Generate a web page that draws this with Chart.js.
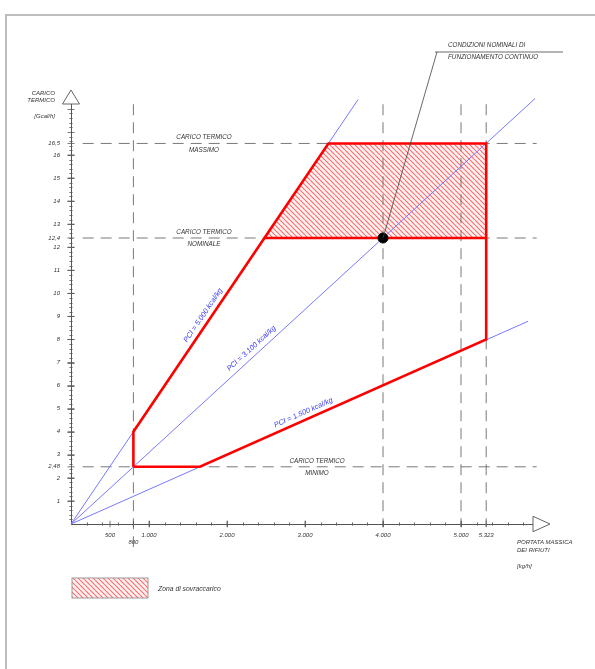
<!DOCTYPE html>
<html><head><meta charset="utf-8">
<script src="https://cdn.jsdelivr.net/npm/chart.js@4/dist/chart.umd.min.js"></script>
<style>html,body{margin:0;padding:0;background:#fff}canvas{display:block}</style>
</head><body>
<canvas id="c" width="595" height="669"></canvas>
<script>
// ---------- DATA ----------
const xTickValues = [500, 800, 1000, 2000, 3000, 4000, 5000, 5323];
const xTickLabels = ['500', '800', '1.000', '2.000', '3.000', '4.000', '5.000', '5.323'];
const xTicksLowered = [800];
const yTickValues = [1, 2, 2.48, 3, 4, 5, 6, 7, 8, 9, 10, 11, 12, 12.4, 13, 14, 15, 16, 16.5];
const yTickLabels = ['1','2','2,48','3','4','5','6','7','8','9','10','11','12','12,4','13','14','15','16','16,5'];

// operating envelope [kg/h , Gcal/h]
const envelopeX = [800, 800, 2480, 3300, 5323, 5323, 1653, 800];
const envelopeY = [2.48, 4, 12.4, 16.5, 16.5, 8, 2.48, 2.48];
const nominalLineX = [2480, 5323];
const nominalLineY = [12.4, 12.4];
// overload zone (upper boundary, filled down to base)
const overloadX = [2480, 3300, 5323];
const overloadY = [12.4, 16.5, 16.5];
const overloadBase = 12.4;

// PCI lines
const pciLabels = ['PCI = 5.000 kcal/kg', 'PCI = 3.100 kcal/kg', 'PCI = 1.500 kcal/kg'];
const pciLineX = [[0, 3680], [0, 5950], [0, 5860]];
const pciLineY = [[0, 18.4], [0, 18.45], [0, 8.79]];

// reference levels (Gcal/h) and flows (kg/h)
const levelValues = [16.5, 12.4, 2.48];
const levelNames = [['CARICO TERMICO', 'MASSIMO'], ['CARICO TERMICO', 'NOMINALE'], ['CARICO TERMICO', 'MINIMO']];
const levelLineX = [150, 5970];
const flowMarks = [800, 4000, 5000, 5323];
const flowMarkBottom = [-1.0, -0.12, -0.12, -0.12];
const flowMarkTop = 18.2;
const nominalPointX = [4000];
const nominalPointY = [12.4];

// ---------- LAYOUT (label anchors in axis units) ----------
const layoutCfg = {
  levelLabelX: [1705, 1705, 3154],
  pciLabelX: [1773, 2378, 3018],
  pciLabelOffset: 7.5
};

const toPts = (xs, ys) => xs.map((x, i) => ({x: x, y: ys[i]}));

const mainCtx = document.getElementById('c').getContext('2d');
function makeHatch() {
  const s = 5, c = document.createElement('canvas');
  c.width = s; c.height = s;
  const g = c.getContext('2d');
  g.fillStyle = '#fff2f2'; g.fillRect(0, 0, s, s);
  g.strokeStyle = '#ff6a6a'; g.lineWidth = 1.1;
  g.beginPath();
  for (let k = -1; k <= 1; k++) { g.moveTo(k * s, 0); g.lineTo(k * s + s, s); }
  g.stroke();
  return mainCtx.createPattern(c, 'repeat');
}
const hatch = makeHatch();

const RED = '#ff0000', BLUE = '#7878ff', DASH = '#6a6a6a', TXT = '#333333';
const FONT = 'Liberation Sans, Arial, sans-serif';

const datasets = [];
datasets.push({data: toPts(nominalPointX, nominalPointY), pointRadius: 5, pointBackgroundColor: '#000', pointBorderColor: '#000', showLine: false, clip: false});
datasets.push({data: toPts(envelopeX, envelopeY), showLine: true, borderColor: RED, borderWidth: 2.6, pointRadius: 0, borderJoinStyle: 'miter', clip: false});
datasets.push({data: toPts(nominalLineX, nominalLineY), showLine: true, borderColor: RED, borderWidth: 2.6, pointRadius: 0, clip: false});
pciLineX.forEach((xs, i) => datasets.push({data: toPts(xs, pciLineY[i]), showLine: true, borderColor: BLUE, borderWidth: 1, pointRadius: 0, clip: false}));
levelValues.forEach(v => datasets.push({data: toPts(levelLineX, [v, v]), showLine: true, borderColor: DASH, borderWidth: 0.9, borderDash: [11, 7], pointRadius: 0, clip: false}));
flowMarks.forEach((x, i) => datasets.push({data: toPts([x, x], [flowMarkTop, flowMarkBottom[i]]), showLine: true, borderColor: DASH, borderWidth: 0.9, borderDash: [11, 7], pointRadius: 0, clip: false}));
datasets.push({data: toPts(overloadX, overloadY), showLine: true, borderWidth: 0, borderColor: 'rgba(0,0,0,0)', backgroundColor: hatch, fill: {value: overloadBase}, pointRadius: 0, clip: false});

const decor = {
  id: 'decor',
  beforeDraw(chart) {
    const ctx = chart.ctx;
    ctx.save();
    ctx.strokeStyle = '#bdbdbd'; ctx.lineWidth = 2;
    ctx.beginPath(); ctx.moveTo(6, 669); ctx.lineTo(6, 15); ctx.lineTo(595, 15); ctx.stroke();
    ctx.restore();
  },
  afterDraw(chart) {
    const ctx = chart.ctx, xs = chart.scales.x, ys = chart.scales.y, a = chart.chartArea;
    const px = v => xs.getPixelForValue(v), py = v => ys.getPixelForValue(v);
    ctx.save();
    // axis ticks (crossing)
    ctx.strokeStyle = '#555'; ctx.lineWidth = 0.8;
    ctx.beginPath();
    for (let k = 1; k <= 90; k++) {
      const v = k / 5, y = Math.round(py(v)) + 0.5;
      const L = (k % 5 === 0) ? 3.5 : 1.6;
      ctx.moveTo(a.left - L, y); ctx.lineTo(a.left + L, y);
    }
    yTickValues.forEach(v => { const y = py(v); ctx.moveTo(a.left - 3.5, y); ctx.lineTo(a.left + 3.5, y); });
    for (let k = 1; k <= 29; k++) {
      const v = k * 200, x = Math.round(px(v)) + 0.5;
      const L = (v % 1000 === 0) ? 3.2 : 1.7;
      ctx.moveTo(x, a.bottom - L); ctx.lineTo(x, a.bottom + L);
    }
    xTickValues.forEach(v => { const x = px(v); ctx.moveTo(x, a.bottom - 3.2); ctx.lineTo(x, a.bottom + 3.2); });
    ctx.stroke();
    // arrows
    ctx.fillStyle = '#fff'; ctx.strokeStyle = '#555'; ctx.lineWidth = 0.9;
    ctx.beginPath(); ctx.moveTo(a.left, a.top - 14); ctx.lineTo(a.left + 8.5, a.top); ctx.lineTo(a.left - 8.5, a.top); ctx.closePath(); ctx.fill(); ctx.stroke();
    ctx.beginPath(); ctx.moveTo(a.right + 17, a.bottom); ctx.lineTo(a.right, a.bottom - 7.7); ctx.lineTo(a.right, a.bottom + 7.7); ctx.closePath(); ctx.fill(); ctx.stroke();

    // axis titles
    ctx.fillStyle = TXT; ctx.textBaseline = 'middle';
    ctx.font = 'italic 6px ' + FONT;
    ctx.textAlign = 'right';
    ctx.fillText('CARICO', 55, 93.5); ctx.fillText('TERMICO', 55, 100.5); ctx.fillText('[Gcal/h]', 55, 116);
    ctx.textAlign = 'left';
    ctx.fillText('PORTATA MASSICA', 517, 542); ctx.fillText('DEI RIFIUTI', 517, 550.5); ctx.fillText('[kg/h]', 517, 566);

    // level labels
    ctx.font = 'italic 6.3px ' + FONT; ctx.textAlign = 'center';
    levelValues.forEach((v, i) => {
      const x = px(layoutCfg.levelLabelX[i]), y = py(v);
      ctx.fillText(levelNames[i][0], x, y - 6);
      ctx.fillText(levelNames[i][1], x, y + 6.5);
    });

    // PCI labels
    ctx.fillStyle = '#3c3cff'; ctx.font = 'italic 7.3px ' + FONT;
    pciLineX.forEach((xsArr, i) => {
      const x0 = px(xsArr[0]), y0 = py(pciLineY[i][0]), x1 = px(xsArr[1]), y1 = py(pciLineY[i][1]);
      const ang = Math.atan2(y1 - y0, x1 - x0);
      const vx = layoutCfg.pciLabelX[i];
      const t = (vx - xsArr[0]) / (xsArr[1] - xsArr[0]);
      const cx = x0 + t * (x1 - x0), cy = y0 + t * (y1 - y0);
      const d = layoutCfg.pciLabelOffset;
      ctx.save();
      ctx.translate(cx + d * Math.sin(ang), cy - d * Math.cos(ang));
      ctx.rotate(ang);
      ctx.fillText(pciLabels[i], 0, 0);
      ctx.restore();
    });

    // nominal conditions callout
    const dx = px(nominalPointX[0]), dy = py(nominalPointY[0]);
    ctx.strokeStyle = '#444'; ctx.lineWidth = 0.8;
    ctx.beginPath(); ctx.moveTo(dx, dy); ctx.lineTo(437, 52); ctx.moveTo(435, 52); ctx.lineTo(563, 52); ctx.stroke();
    ctx.fillStyle = TXT; ctx.font = 'italic 6.3px ' + FONT; ctx.textAlign = 'left';
    ctx.fillText('CONDIZIONI NOMINALI DI', 448, 45.5);
    ctx.fillText('FUNZIONAMENTO CONTINUO', 448, 57.5);

    // legend
    ctx.fillStyle = hatch; ctx.fillRect(72, 578, 76, 20);
    ctx.strokeStyle = '#999'; ctx.lineWidth = 1; ctx.strokeRect(72, 578, 76, 20);
    ctx.fillStyle = TXT; ctx.font = 'italic 6.8px ' + FONT;
    ctx.fillText('Zona di sovraccarico', 158, 589);
    ctx.restore();
  }
};

const tickFont = {family: FONT, size: 6, style: 'italic'};
new Chart(document.getElementById('c'), {
  type: 'scatter',
  data: {datasets: datasets},
  options: {
    responsive: false, animation: false, events: [],
    layout: {padding: {left: 0, top: 104, right: 62, bottom: 0}},
    plugins: {legend: {display: false}, tooltip: {enabled: false}},
    elements: {line: {tension: 0}},
    scales: {
      x: {
        type: 'linear', position: 'bottom', min: 0, max: 5923, bounds: 'data',
        afterFit: s => { s.height = 145; },
        afterBuildTicks: s => { s.ticks = xTickValues.map(v => ({value: v})); },
        ticks: {autoSkip: false, maxRotation: 0, minRotation: 0, padding: 4, color: TXT, font: tickFont,
          callback: v => { const l = xTickLabels[xTickValues.indexOf(v)]; return xTicksLowered.includes(v) ? ['', l] : l; }},
        grid: {display: true, drawOnChartArea: false, drawTicks: true, tickLength: 4, color: 'rgba(0,0,0,0)'},
        border: {display: true, color: '#555', width: 1}
      },
      y: {
        type: 'linear', position: 'left', min: 0, max: 18.21, bounds: 'data',
        afterFit: s => { s.width = 71; },
        afterBuildTicks: s => { s.ticks = yTickValues.map(v => ({value: v})); },
        ticks: {autoSkip: false, padding: 7, color: TXT, font: tickFont,
          callback: v => yTickLabels[yTickValues.indexOf(v)]},
        grid: {display: true, drawOnChartArea: false, drawTicks: true, tickLength: 4, color: 'rgba(0,0,0,0)'},
        border: {display: true, color: '#555', width: 1}
      }
    }
  },
  plugins: [decor]
});
</script>
</body></html>
